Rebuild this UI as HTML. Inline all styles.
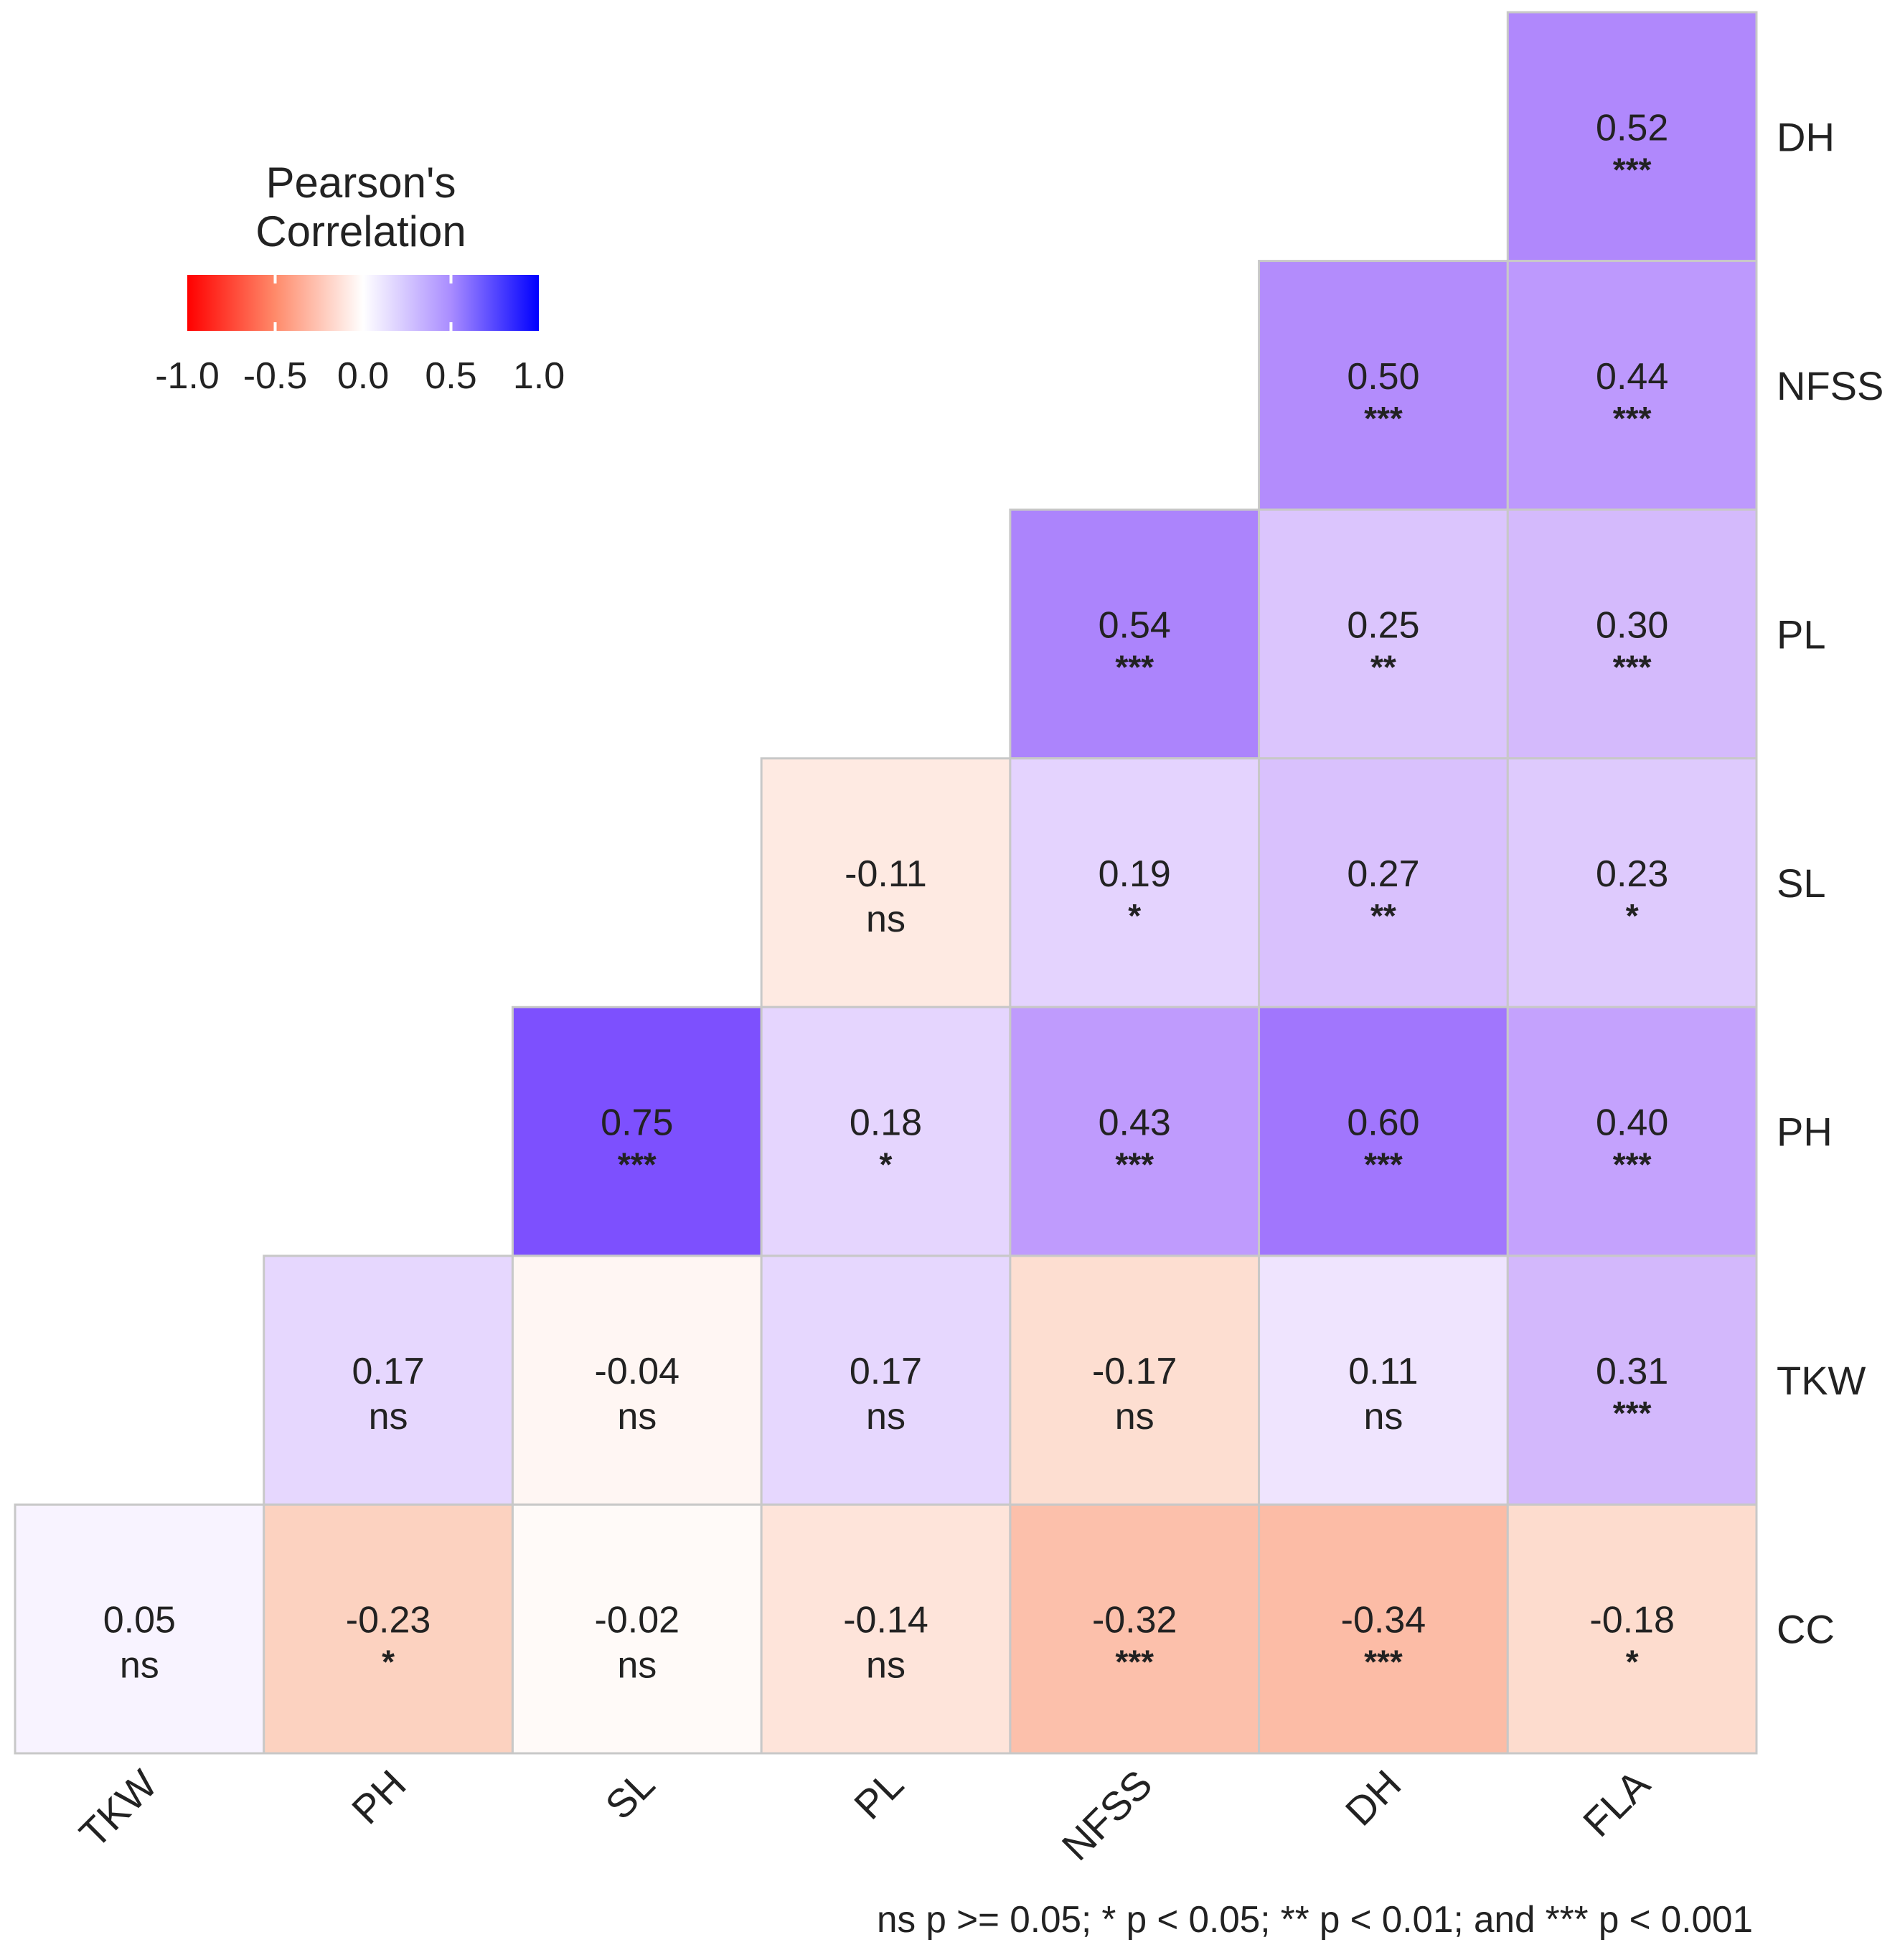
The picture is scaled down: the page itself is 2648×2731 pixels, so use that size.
<!DOCTYPE html>
<html><head><meta charset="utf-8"><style>
html,body{margin:0;padding:0;background:#fff;}
svg{display:block;font-family:"Liberation Sans",Arial,sans-serif;}
</style></head><body>
<svg id="chart" width="2648" height="2731" viewBox="0 0 2648 2731" xmlns="http://www.w3.org/2000/svg">
<defs>
<linearGradient id="cbar" x1="0" x2="1" y1="0" y2="0">
<stop offset="0" stop-color="#ff0000"/><stop offset="0.25" stop-color="#ff8a6a"/><stop offset="0.5" stop-color="#ffffff"/><stop offset="0.75" stop-color="#a98cff"/><stop offset="1" stop-color="#0000ff"/>
</linearGradient>
</defs>
<g id="legend">
<text x="503" y="275" font-size="60" text-anchor="middle" fill="#222">Pearson's</text>
<text x="503" y="343" font-size="60" text-anchor="middle" fill="#222">Correlation</text>
<rect x="261" y="383" width="490" height="78" fill="url(#cbar)"/>
</g>
<g id="cells"></g>
<g id="labels"></g>
<text x="2443" y="2692" font-size="52" text-anchor="end" textLength="1221" lengthAdjust="spacingAndGlyphs" fill="#222">ns p &gt;= 0.05; * p &lt; 0.05; ** p &lt; 0.01; and *** p &lt; 0.001</text>
</svg>
<script>
const rowVars = ["DH","NFSS","PL","SL","PH","TKW","CC"];
const colVars = ["TKW","PH","SL","PL","NFSS","DH","FLA"];
const values = [
 [null,null,null,null,null,null,0.52],
 [null,null,null,null,null,0.50,0.44],
 [null,null,null,null,0.54,0.25,0.30],
 [null,null,null,-0.11,0.19,0.27,0.23],
 [null,null,0.75,0.18,0.43,0.60,0.40],
 [null,0.17,-0.04,0.17,-0.17,0.11,0.31],
 [0.05,-0.23,-0.02,-0.14,-0.32,-0.34,-0.18]
];
const sigs = [
 [null,null,null,null,null,null,"***"],
 [null,null,null,null,null,"***","***"],
 [null,null,null,null,"***","**","***"],
 [null,null,null,"ns","*","**","*"],
 [null,null,"***","*","***","***","***"],
 [null,"ns","ns","ns","ns","ns","***"],
 ["ns","*","ns","ns","***","***","*"]
];
const legendTicks = [-1.0,-0.5,0.0,0.5,1.0];

const NS="http://www.w3.org/2000/svg";
const svg=document.getElementById('chart');
const X0=21,X1=2448,Y0=17,Y1=2443;
const cw=(X1-X0)/colVars.length, ch=(Y1-Y0)/rowVars.length;
function xPos(j){return X0+j*cw;}
function yPos(i){return Y0+i*ch;}
const stops=[[-1,[255,0,0]],[-0.34,[252,188,166]],[-0.23,[252,210,192]],[-0.14,[254,228,218]],[-0.02,[255,250,248]],[0,[255,255,255]],[0.11,[239,228,254]],[0.18,[229,213,254]],[0.31,[211,184,252]],[0.43,[191,155,253]],[0.52,[176,136,252]],[0.60,[161,118,253]],[0.75,[125,80,254]],[1,[0,0,255]]];
function color(v){
  for(let k=0;k<stops.length-1;k++){
    const [a,ca]=stops[k],[b,cb]=stops[k+1];
    if(v>=a&&v<=b){const t=(v-a)/(b-a);const c=ca.map((x,n)=>Math.round(x+(cb[n]-x)*t));return `rgb(${c.join(',')})`;}
  }
  return '#fff';
}
function mk(tag,attrs,parent){const e=document.createElementNS(NS,tag);for(const k in attrs)e.setAttribute(k,attrs[k]);parent.appendChild(e);return e;}
const cells=document.getElementById('cells');
for(let i=0;i<rowVars.length;i++){
  for(let j=0;j<colVars.length;j++){
    const v=values[i][j]; if(v===null)continue;
    const r=mk('rect',{x:xPos(j),y:yPos(i),width:cw,height:ch,fill:color(v),stroke:'#c8c8c8','stroke-width':3},cells);
    
    
    const cx=xPos(j)+cw/2, cy=yPos(i)+ch/2;
    const t=mk('text',{x:cx,y:cy+5,'font-size':52,'text-anchor':'middle',fill:'#222'},cells);
    t.textContent=v.toFixed(2);
    
    
    const s=sigs[i][j];
    const st=mk('text',{x:cx,y:s==='ns'?cy+68:cy+62,'font-size':s==='ns'?52:46,'font-weight':s==='ns'?'normal':'bold','text-anchor':'middle',fill:'#222'},cells);
    st.textContent=s;
    
    
  }
}
const labels=document.getElementById('labels');
rowVars.forEach((n,i)=>{
  const t=mk('text',{x:2476,y:yPos(i)+ch/2+20,'font-size':56,fill:'#222'},labels);
  t.textContent=n;
  
  
});
colVars.forEach((n,j)=>{
  const ax=xPos(j)+cw/2+28, ay=2490;
  const t=mk('text',{x:ax,y:ay,'font-size':56,'text-anchor':'end',fill:'#222',transform:`rotate(-45 ${ax} ${ay})`},labels);
  t.textContent=n;
  
  
});
const legend=document.getElementById('legend');
const LX0=261,LX1=751;
function lx(v){return LX0+(v+1)/2*(LX1-LX0);}
legendTicks.forEach(v=>{
  if(v>-1&&v<1&&v!==0){
    const m=mk('line',{x1:lx(v),x2:lx(v),y1:383,y2:395,stroke:'#fff','stroke-width':4},legend);
    
    
    const m2=mk('line',{x1:lx(v),x2:lx(v),y1:449,y2:461,stroke:'#fff','stroke-width':4},legend);
    
    
  }
  const t=mk('text',{x:lx(v),y:541,'font-size':52,'text-anchor':'middle',fill:'#222'},legend);
  t.textContent=v.toFixed(1);
  
  
});
</script>
</body></html>
